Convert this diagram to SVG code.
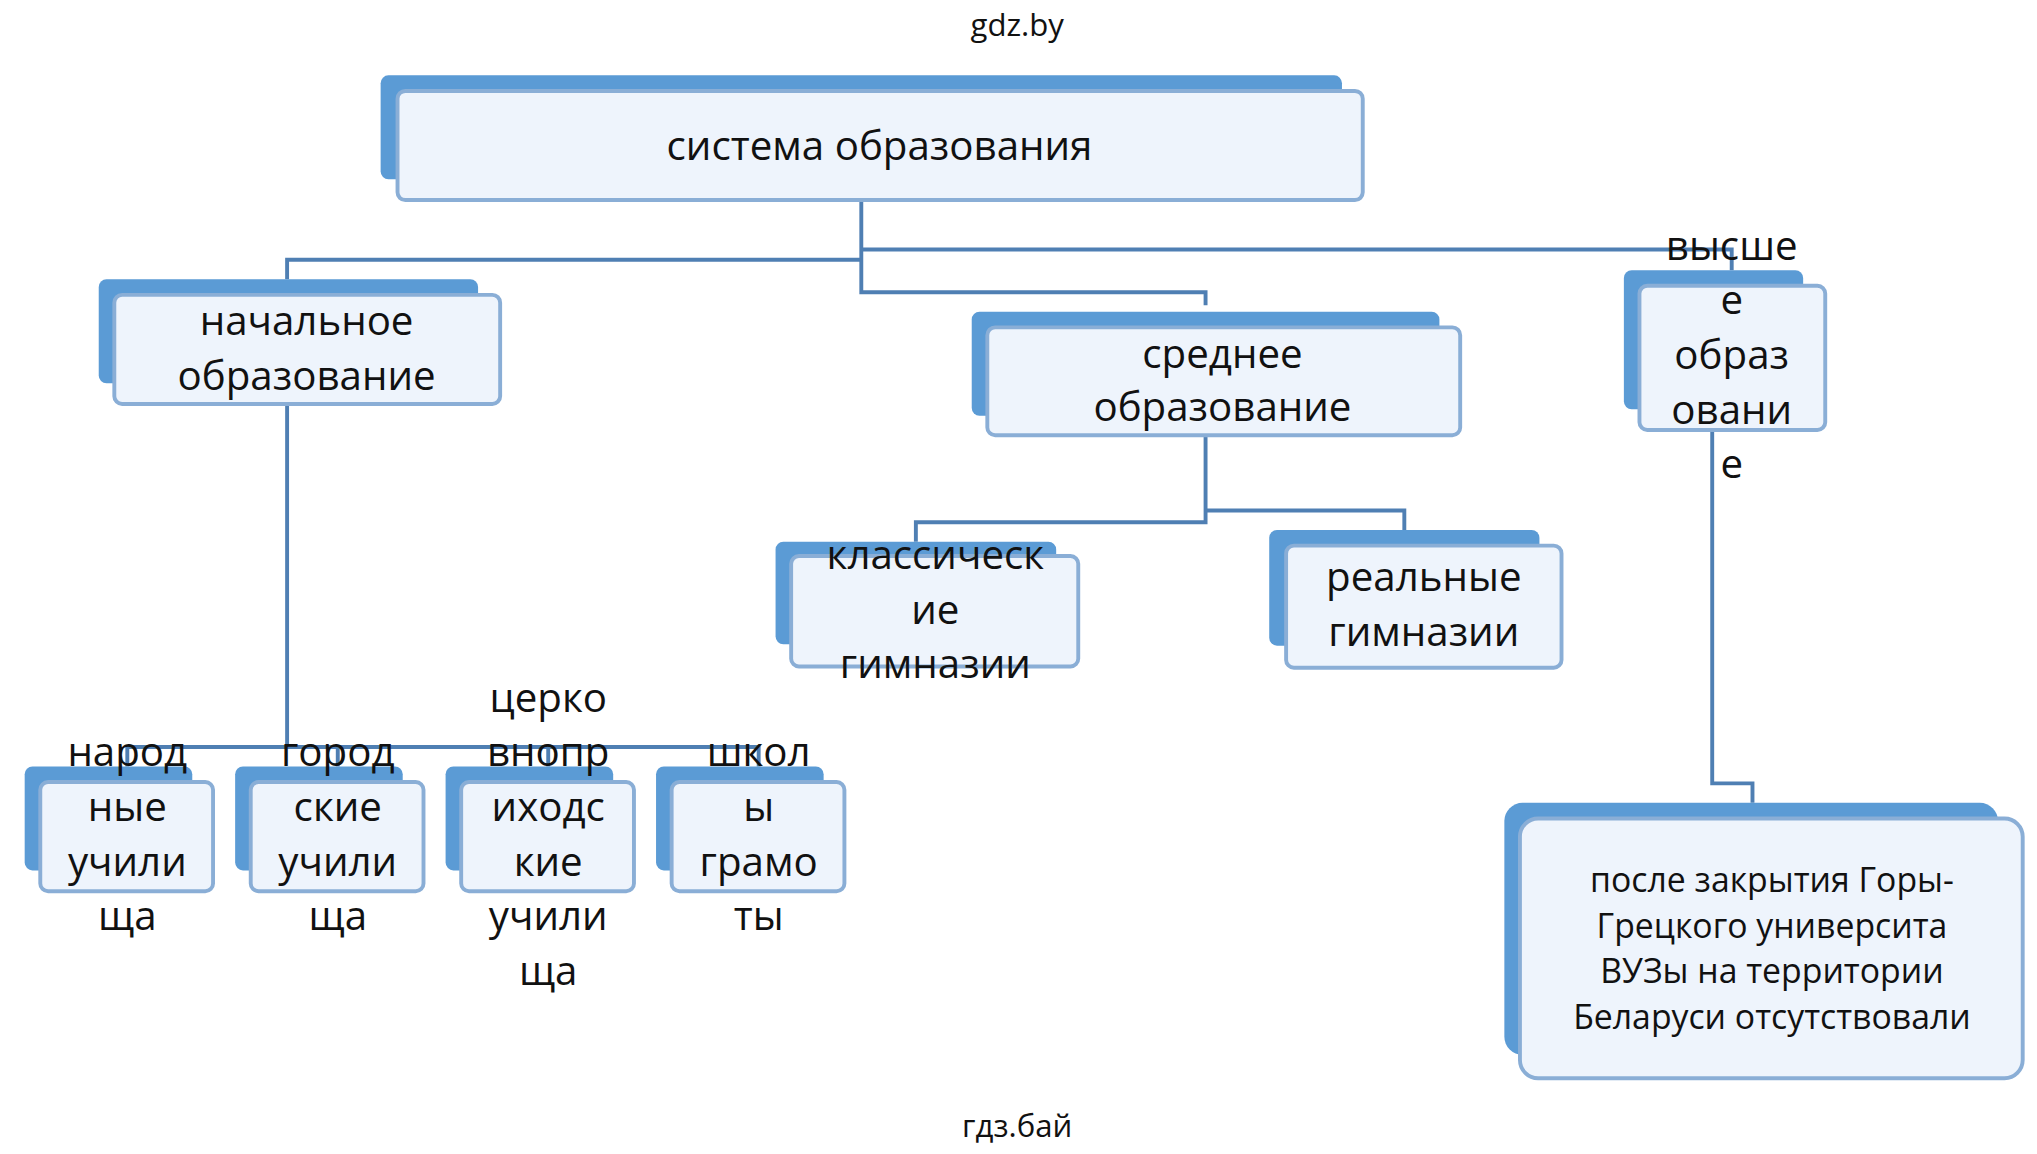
<svg xmlns="http://www.w3.org/2000/svg" width="2037" height="1154" viewBox="0 0 2037 1154">
<style>
.b{fill:#5b9bd5}
.f{fill:#eef4fc;stroke:#8aaed6;stroke-width:3}
text{font-family:"Open Sans","Noto Sans",sans-serif;text-anchor:middle;fill:#111}
.t{font-size:31px}
.s{font-size:26px}
.c{fill:none;stroke:#4f7fb3;stroke-width:3}
</style>
<rect width="2037" height="1154" fill="#fff"/>
<g transform="scale(1.2991)">
<text x="783" y="28" style="font-size:24px">gdz.by</text>
<text x="783" y="875" style="font-size:24px">гдз.бай</text>
<g id="connectors" class="c">
<path d="M663 154V225H928V235M663 200H221V215M663 192H1333V208M221 311V575M98 590V575H584V590M260 575V590M422 575V590M928 335V402H705V417M928 393H1081V408M1318 331V603H1349V618"/>
</g>
<g id="n1"><rect class="b" x="293" y="58" width="740" height="80" rx="6"/><rect class="f" x="306" y="70" width="743" height="84" rx="6"/><text class="t" x="677" y="123">система образования</text></g>
<g id="n2"><rect class="b" x="76" y="215" width="292" height="80" rx="6"/><rect class="f" x="88" y="227" width="297" height="84" rx="6"/><text class="t" x="236" y="258">начальное</text><text class="t" x="236" y="300">образование</text></g>
<g id="n3"><rect class="b" x="748" y="240" width="360" height="80" rx="6"/><rect class="f" x="760" y="252" width="364" height="83" rx="6"/><text class="t" x="941" y="283">среднее</text><text class="t" x="941" y="324">образование</text></g>
<g id="n4"><rect class="b" x="1250" y="208" width="138" height="107" rx="6"/><rect class="f" x="1262" y="220" width="143" height="111" rx="6"/><text class="t" x="1333" y="200">высше</text><text class="t" x="1333" y="242">е</text><text class="t" x="1333" y="284">образ</text><text class="t" x="1333" y="326">овани</text><text class="t" x="1333" y="368">е</text></g>
<g id="n5"><rect class="b" x="597" y="417" width="216" height="79" rx="6"/><rect class="f" x="609" y="428" width="221" height="85" rx="6"/><text class="t" x="720" y="438">классическ</text><text class="t" x="720" y="480">ие</text><text class="t" x="720" y="522">гимназии</text></g>
<g id="n6"><rect class="b" x="977" y="408" width="208" height="89" rx="6"/><rect class="f" x="990" y="420" width="212" height="94" rx="6"/><text class="t" x="1096" y="455">реальные</text><text class="t" x="1096" y="497">гимназии</text></g>
<g id="n7"><rect class="b" x="19" y="590" width="129" height="80" rx="6"/><rect class="f" x="31" y="602" width="133" height="84" rx="6"/><text class="t" x="98" y="590">народ</text><text class="t" x="98" y="632">ные</text><text class="t" x="98" y="674">учили</text><text class="t" x="98" y="716">ща</text></g>
<g id="n8"><rect class="b" x="181" y="590" width="129" height="80" rx="6"/><rect class="f" x="193" y="602" width="133" height="84" rx="6"/><text class="t" x="260" y="590">город</text><text class="t" x="260" y="632">ские</text><text class="t" x="260" y="674">учили</text><text class="t" x="260" y="716">ща</text></g>
<g id="n9"><rect class="b" x="343" y="590" width="129" height="80" rx="6"/><rect class="f" x="355" y="602" width="133" height="84" rx="6"/><text class="t" x="422" y="548">церко</text><text class="t" x="422" y="590">внопр</text><text class="t" x="422" y="632">иходс</text><text class="t" x="422" y="674">кие</text><text class="t" x="422" y="716">учили</text><text class="t" x="422" y="758">ща</text></g>
<g id="n10"><rect class="b" x="505" y="590" width="129" height="80" rx="6"/><rect class="f" x="517" y="602" width="133" height="84" rx="6"/><text class="t" x="584" y="590">школ</text><text class="t" x="584" y="632">ы</text><text class="t" x="584" y="674">грамо</text><text class="t" x="584" y="716">ты</text></g>
<g id="n11"><rect class="b" x="1158" y="618" width="380" height="194" rx="14"/><rect class="f" x="1170" y="630" width="387" height="200" rx="14"/><text class="s" x="1364" y="687">после закрытия Горы-</text><text class="s" x="1364" y="722">Грецкого университа</text><text class="s" x="1364" y="757">ВУЗы на территории</text><text class="s" x="1364" y="792">Беларуси отсутствовали</text></g>
</g>
</svg>
